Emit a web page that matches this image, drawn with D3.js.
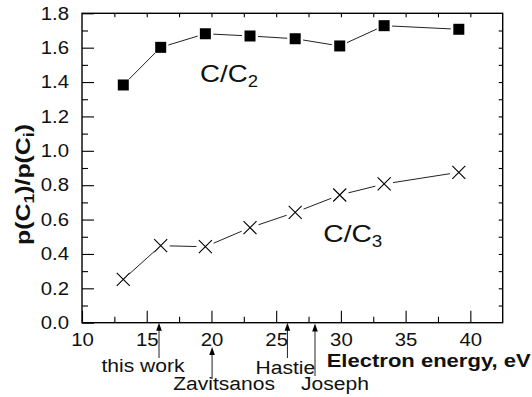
<!DOCTYPE html>
<html>
<head>
<meta charset="utf-8">
<script src="https://cdn.jsdelivr.net/npm/d3@7"></script>
<style>
  html, body { margin: 0; padding: 0; background: #fff; }
  svg { display: block; font-family: "Liberation Sans", Arial, Helvetica, sans-serif; }
</style>
</head>
<body>
<div id="graph"></div>
<script>
// data
const energy   = [13.19, 16.08, 19.53, 22.98, 26.47, 29.91, 33.34, 39.11];
const ratioC2  = [1.383, 1.602, 1.681, 1.668, 1.652, 1.610, 1.728, 1.707];
const ratioC3  = [0.252, 0.448, 0.442, 0.553, 0.642, 0.743, 0.807, 0.875];
const xTicks   = [10, 15, 20, 25, 30, 35, 40];
const yTicks   = [0, 0.2, 0.4, 0.6, 0.8, 1.0, 1.2, 1.4, 1.6, 1.8];
const refNames  = ['this work', 'Zavitsanos', 'Hastie', 'Joseph'];
const refEnergy = [15.95, 20.05, 25.87, 28.0];

var width = 532, height = 397;
var margin = { top: 13.3, right: 29.3, bottom: 74.3, left: 82 };
var W = width - margin.left - margin.right,
    H = height - margin.top - margin.bottom;

var svg = d3.select('#graph').append('svg')
  .attr('width', width).attr('height', height);
var g = svg.append('g')
  .attr('transform', 'translate(' + margin.left + ',' + margin.top + ')');

var x = d3.scaleLinear().domain([10, 42.5]).range([0, W]);
var y = d3.scaleLinear().domain([0, 1.8]).range([H, 0]);

// text in the figure is a bit wider than the font, stretch it
function stretch(sel, k) {
  sel.each(function () {
    var w = this.getComputedTextLength();
    this.setAttribute('textLength', w * k);
    this.setAttribute('lengthAdjust', 'spacingAndGlyphs');
  });
}

// minor ticks
var xMinor = d3.range(12.5, 42.5, 5);
var yMinor = d3.range(0.1, 1.8, 0.2);

g.append('g').attr('transform', 'translate(0,' + H + ')')
  .call(d3.axisBottom(x).tickValues(xMinor).tickSizeInner(-6).tickSizeOuter(0).tickFormat(''));
g.append('g')
  .call(d3.axisLeft(y).tickValues(yMinor).tickSizeInner(-6).tickSizeOuter(0).tickFormat(''));
g.append('g')
  .call(d3.axisTop(x).tickValues(d3.range(12.5, 42.5, 2.5)).tickSizeInner(-4).tickSizeOuter(0).tickFormat(''));
g.append('g').attr('transform', 'translate(' + W + ',0)')
  .call(d3.axisRight(y).tickValues(d3.range(0.1, 1.8, 0.1)).tickSizeInner(-4).tickSizeOuter(0).tickFormat(''));

// major axes
var xAxis = g.append('g').attr('transform', 'translate(0,' + H + ')')
  .call(d3.axisBottom(x).tickValues(xTicks).tickSizeInner(-12).tickSizeOuter(0).tickPadding(10.5));
var yAxis = g.append('g')
  .call(d3.axisLeft(y).tickValues(yTicks).tickSizeInner(-12).tickSizeOuter(0).tickPadding(13)
    .tickFormat(d3.format('.1f')));

g.selectAll('.tick line').attr('stroke', '#000').attr('stroke-width', 1.1);
g.selectAll('.domain').remove();
g.selectAll('.tick text').attr('font-size', 18).attr('fill', '#111')
  .attr('font-family', '"Liberation Sans", Arial, sans-serif');
stretch(g.selectAll('.tick text'), 1.13);

// frame
g.append('rect').attr('x', 0).attr('y', 0).attr('width', W).attr('height', H)
  .attr('fill', 'none').attr('stroke', '#000').attr('stroke-width', 1.4);

// connecting lines, with small gaps at the markers
function drawLine(vals, gap) {
  for (var i = 0; i < vals.length - 1; i++) {
    var x0 = x(energy[i]), y0 = y(vals[i]), x1 = x(energy[i + 1]), y1 = y(vals[i + 1]);
    var dx = x1 - x0, dy = y1 - y0, len = Math.sqrt(dx * dx + dy * dy);
    var ux = dx / len, uy = dy / len;
    g.append('line')
      .attr('x1', x0 + ux * gap).attr('y1', y0 + uy * gap)
      .attr('x2', x1 - ux * gap).attr('y2', y1 - uy * gap)
      .attr('stroke', '#222').attr('stroke-width', 1);
  }
}
drawLine(ratioC2, 8);
drawLine(ratioC3, 9);

// squares
g.selectAll('.sq').data(ratioC2).enter().append('rect')
  .attr('x', function (d, i) { return x(energy[i]) - 5.5; })
  .attr('y', function (d) { return y(d) - 5.5; })
  .attr('width', 11).attr('height', 11).attr('fill', '#000');

// crosses
var cr = 6.5;
g.selectAll('.cx').data(ratioC3).enter().append('path')
  .attr('d', function (d, i) {
    var cx = x(energy[i]), cy = y(d);
    return 'M' + (cx - cr) + ',' + (cy - cr) + 'L' + (cx + cr) + ',' + (cy + cr) +
           'M' + (cx - cr) + ',' + (cy + cr) + 'L' + (cx + cr) + ',' + (cy - cr);
  })
  .attr('stroke', '#000').attr('stroke-width', 1.1).attr('fill', 'none');

// series labels
function seriesLabel(px, py, sub) {
  var t = svg.append('text').attr('x', px).attr('y', py)
    .attr('font-size', 24).attr('fill', '#111');
  t.append('tspan').text('C/C');
  t.append('tspan').attr('font-size', 16).attr('dy', 5).text(sub);
  return t;
}
var l2 = seriesLabel(200, 82, '2');
l2.attr('textLength', 58).attr('lengthAdjust', 'spacingAndGlyphs');
var l3 = seriesLabel(323.3, 242.3, '3');
l3.attr('textLength', 59).attr('lengthAdjust', 'spacingAndGlyphs');

// axis titles
svg.append('text').attr('x', 326.7).attr('y', 366.7)
  .attr('font-size', 18).attr('font-weight', 'bold').attr('fill', '#111')
  .attr('textLength', 204).attr('lengthAdjust', 'spacingAndGlyphs')
  .text('Electron energy, eV');

var yl = svg.append('text')
  .attr('transform', 'translate(30,184.5) rotate(-90)')
  .attr('text-anchor', 'middle')
  .attr('font-size', 21).attr('font-weight', 'bold').attr('fill', '#111');
yl.append('tspan').text('p(C');
yl.append('tspan').attr('font-size', 15).attr('dy', 4).text('1');
yl.append('tspan').attr('dy', -4).text(')/p(C');
yl.append('tspan').attr('font-size', 15).attr('dy', 4).text('i');
yl.append('tspan').attr('dy', -4).text(')');
yl.attr('textLength', 121).attr('lengthAdjust', 'spacingAndGlyphs');

// reference arrows below the axis
var refLayout = [
  { tip: 322.7, tail: 358, base: 372, dx: -16 },
  { tip: 347,   tail: 379, base: 390, dx: 12 },
  { tip: 322.7, tail: 358, base: 374, dx: -2 },
  { tip: 323.5, tail: 376, base: 390, dx: 20 }
];
refNames.forEach(function (name, i) {
  var L = refLayout[i];
  var ax = margin.left + x(refEnergy[i]);
  svg.append('line').attr('x1', ax).attr('x2', ax)
    .attr('y1', L.tip + 6).attr('y2', L.tail)
    .attr('stroke', '#222').attr('stroke-width', 1);
  svg.append('path')
    .attr('d', 'M' + ax + ',' + L.tip + 'L' + (ax - 2.8) + ',' + (L.tip + 8) + 'L' + (ax + 2.8) + ',' + (L.tip + 8) + 'Z')
    .attr('fill', '#000');
  var t = svg.append('text').attr('x', ax + L.dx).attr('y', L.base)
    .attr('text-anchor', 'middle').attr('font-size', 18).attr('fill', '#111')
    .text(name);
  stretch(t, 1.17);
});
</script>
</body>
</html>
